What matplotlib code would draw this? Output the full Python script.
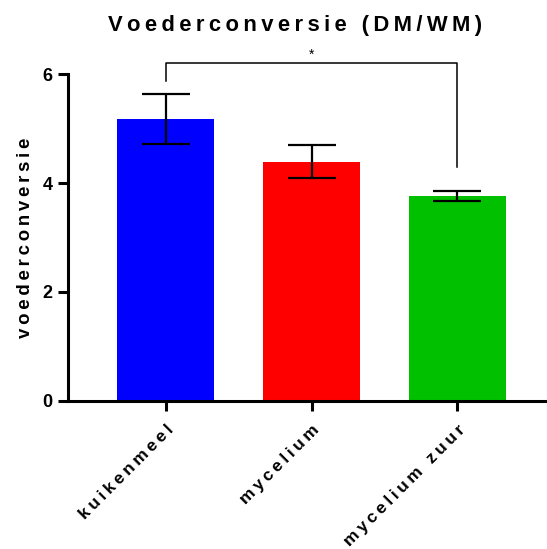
import matplotlib
matplotlib.use("Agg")
import matplotlib.pyplot as plt
import numpy as np

categories = ["kuikenmeel", "mycelium", "mycelium zuur"]
means = [5.17, 4.39, 3.76]
errors = [0.46, 0.30, 0.085]
colors = ["#0000FF", "#FF0000", "#00C000"]
yticks = [0, 2, 4, 6]
title = "Voederconversie (DM/WM)"
ylabel = "voederconversie"
sig_pair = (0, 2)
sig_y = 6.2
sig_legs = (5.87, 4.30)
sig_text = "*"

plt.rcParams['font.family'] = ['Liberation Sans', 'DejaVu Sans']
plt.rcParams['font.weight'] = 'bold'

def spaced(s, sep="\u2009"):
    return sep.join(list(s))

fig = plt.figure(figsize=(5.47, 5.49), dpi=100)
ax = fig.add_axes([0.1243, 0.2696, 0.996 - 0.1243, 0.8652 - 0.2696])

x = np.arange(len(categories))
ax.bar(x, means, width=0.665, color=colors, zorder=2)
ax.errorbar(x, means, yerr=errors, fmt="none", ecolor="black",
            elinewidth=1.6, capsize=17.5, capthick=1.6, zorder=3)

ax.set_xlim(-0.67, 2.6)
ax.set_ylim(0, 6)
ax.set_yticks(yticks)
ax.set_yticklabels([str(t) for t in yticks], fontsize=13, fontweight='bold')
ax.set_xticks(x)
ax.set_xticklabels([spaced(c) for c in categories], rotation=45, ha='right',
                   rotation_mode='anchor', fontsize=12.5, fontweight='bold')

for s in ["top", "right"]:
    ax.spines[s].set_visible(False)
for s in ["left", "bottom"]:
    ax.spines[s].set_linewidth(2.2)
ax.tick_params(axis='both', width=2.2, length=7, pad=4)
ax.tick_params(axis='x', pad=8)

ax.set_ylabel(spaced(ylabel), fontsize=13.4, fontweight='bold', labelpad=6)
fig.suptitle(spaced(title), fontsize=15.8, fontweight='bold', x=0.54, y=0.972)

# significance bracket
x0, x1 = sig_pair
ax.plot([x0, x0, x1, x1], [sig_legs[0], sig_y, sig_y, sig_legs[1]],
        color='black', lw=1.1, clip_on=False, zorder=4)
ax.text((x0 + x1) / 2, sig_y + 0.02, sig_text, ha='center', va='bottom',
        fontsize=10, fontweight='normal')

fig.savefig("out.png", dpi=100)
